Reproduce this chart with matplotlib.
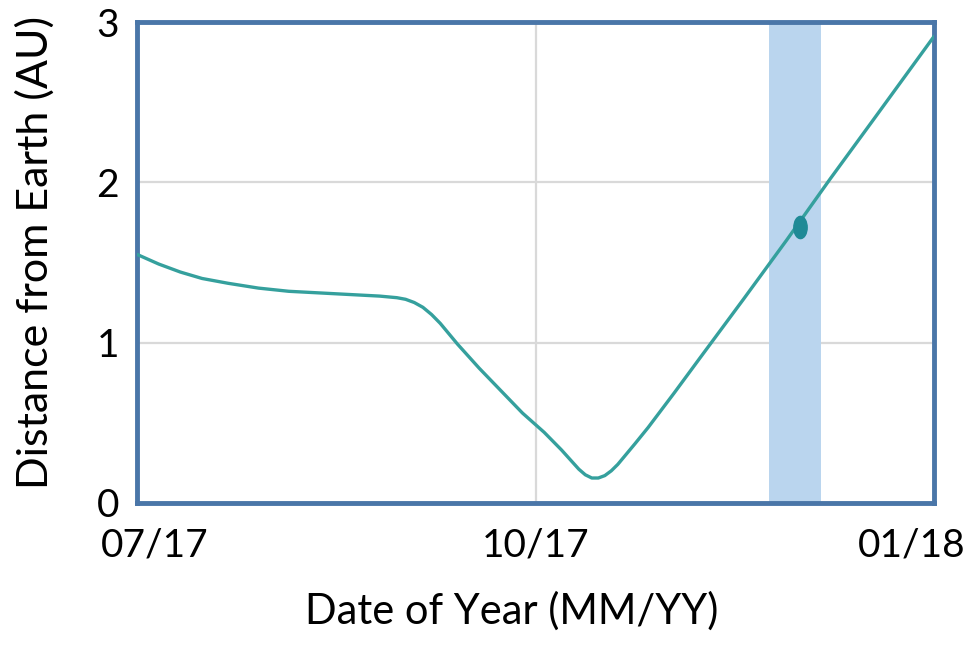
#!/usr/bin/env python3
'''
Distance from Earth over Jul 2017 - Jan 2018
'''

import datetime as dt
import numpy as np
import matplotlib
matplotlib.use('Agg')
import matplotlib.pyplot as plt
import matplotlib.transforms as mtransforms
from matplotlib.path import Path
from matplotlib.markers import MarkerStyle

# days after 2017-07-01 and distance (AU)
day_offsets = [0, 5, 10, 15, 21, 28, 35, 42, 49, 56, 60, 62, 64, 66, 68, 70,
               72, 74, 79, 84, 89, 94, 98, 100, 102, 103.5, 105, 106.5, 108,
               109.5, 111, 113, 115, 118, 124, 130, 140, 150, 160, 170, 184]
distance_au = [1.55, 1.49, 1.44, 1.40, 1.37, 1.34, 1.32, 1.31, 1.30, 1.29,
               1.28, 1.27, 1.25, 1.22, 1.175, 1.12, 1.055, 0.99, 0.84, 0.70,
               0.56, 0.44, 0.33, 0.27, 0.21, 0.175, 0.155, 0.155, 0.17,
               0.20, 0.24, 0.305, 0.37, 0.47, 0.685, 0.905, 1.27, 1.64, 2.02,
               2.39, 2.91]

band_start = '2017-11-24'
band_end = '2017-12-06'
marker_date = '2017-12-01'
marker_value = 1.72

tick_dates = ['2017-07-01', '2017-10-01', '2018-01-01']
tick_labels = ['07/17', '10/17', '01/18']
y_ticks = [0, 1, 2, 3]

start = dt.datetime(2017, 7, 1)
dates = [start + dt.timedelta(days=d) for d in day_offsets]
to_date = lambda s: dt.datetime.strptime(s, '%Y-%m-%d')

plt.rcParams['font.family'] = ['Lato', 'DejaVu Sans']

fig = plt.figure(figsize=(9.79, 6.48), dpi=100)
ax = fig.add_axes([0.140, 0.224, 0.814, 0.742])

ax.axvspan(to_date(band_start), to_date(band_end), color='#bad5ee', lw=0, zorder=1)
ax.plot(dates, distance_au, color='#35a09d', lw=2.4, zorder=3,
        solid_capstyle='round', solid_joinstyle='round')

# tall oval marker
circ = Path.unit_circle()
oval = Path(circ.vertices * np.array([0.6, 1.0]), circ.codes)
ax.plot([to_date(marker_date)], [marker_value], linestyle='none',
        marker=MarkerStyle(oval), markersize=16, color='#1f8a96', zorder=4)

ax.set_xlim(to_date(tick_dates[0]), to_date(tick_dates[-1]))
ax.set_ylim(0, 3)
ax.set_xticks([to_date(t) for t in tick_dates])
ax.set_xticklabels(tick_labels)
ax.set_yticks(y_ticks)
ax.grid(True, color='#d9d9d9', lw=1.6, zorder=0)
ax.set_axisbelow(True)
ax.tick_params(length=0, labelsize=28, colors='black')
ax.tick_params(axis='x', pad=18)
ax.tick_params(axis='y', pad=13)

for s in ax.spines.values():
    s.set_color('#4a76a8')
    s.set_linewidth(3.5)

# shift the edge date labels inward
labels = ax.get_xticklabels()
for lab, dx in zip(labels, [18, 0, -22]):
    lab.set_transform(lab.get_transform() +
                      mtransforms.ScaledTranslation(dx / 100, 0, fig.dpi_scale_trans))

ax.set_ylabel('Distance from Earth (AU)', fontsize=31)
ax.yaxis.set_label_coords(-0.103, 0.52)
ax.set_xlabel('Date of Year (MM/YY)', fontsize=30)
ax.xaxis.set_label_coords(0.47, -0.185)

fig.savefig('out.png', dpi=100)
